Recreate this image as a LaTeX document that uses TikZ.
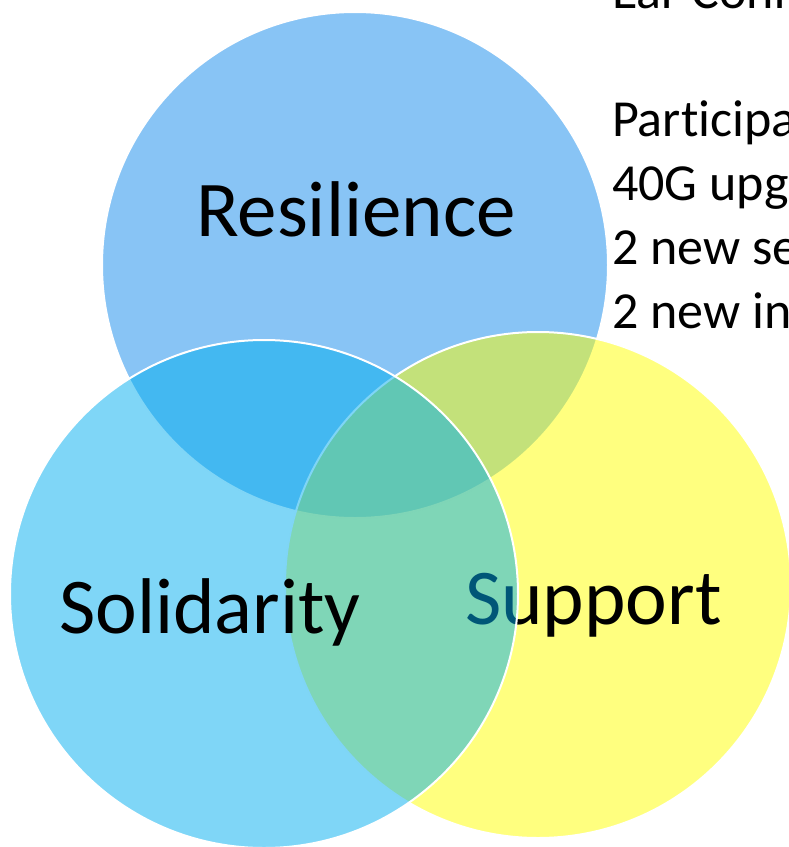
\documentclass[tikz,border=0pt]{standalone}
\usepackage{fontspec}
\setmainfont{Carlito}[Ligatures=NoCommon]
\definecolor{resblue}{RGB}{17,137,235}
\definecolor{solcyan}{RGB}{0,173,239}
\definecolor{supyellow}{RGB}{255,255,0}
\begin{document}
\begin{tikzpicture}[x=1pt,y=-1pt,
	bubble/.style={fill opacity=0.5,draw=white,line width=2pt},
	tag/.style={anchor=base west,inner sep=0pt,font=\fontsize{79}{95}\selectfont},
	note/.style={anchor=base west,inner sep=0pt,font=\fontsize{52}{64}\selectfont}]
		\clip (0,0) rectangle (789,847);
		% resilience
		\draw[bubble,fill=resblue] (355,265) circle (253);
		\node[tag] (res) at (196,236) {Resilience};
		% support
		\draw[bubble,fill=supyellow] (538,585) circle (253);
		\node[tag] (sup) at (465,624) {Support};
		% solidarity
		\draw[bubble,fill=solcyan] (264,594) circle (254);
		\node[tag] (sol) at (59,633) {Solidarity};
		% notes, cut at the right edge
		\node[note] (ear) at (612,8) {Ear Conf};
		\node[note] (part) at (612,136) {Participa};
		\node[note] (upg) at (612,200) {40G upg};
		\node[note] (serv) at (612,264) {2 new se};
		\node[note] (inst) at (612,328) {2 new in};
		\end{tikzpicture}
\end{document}
